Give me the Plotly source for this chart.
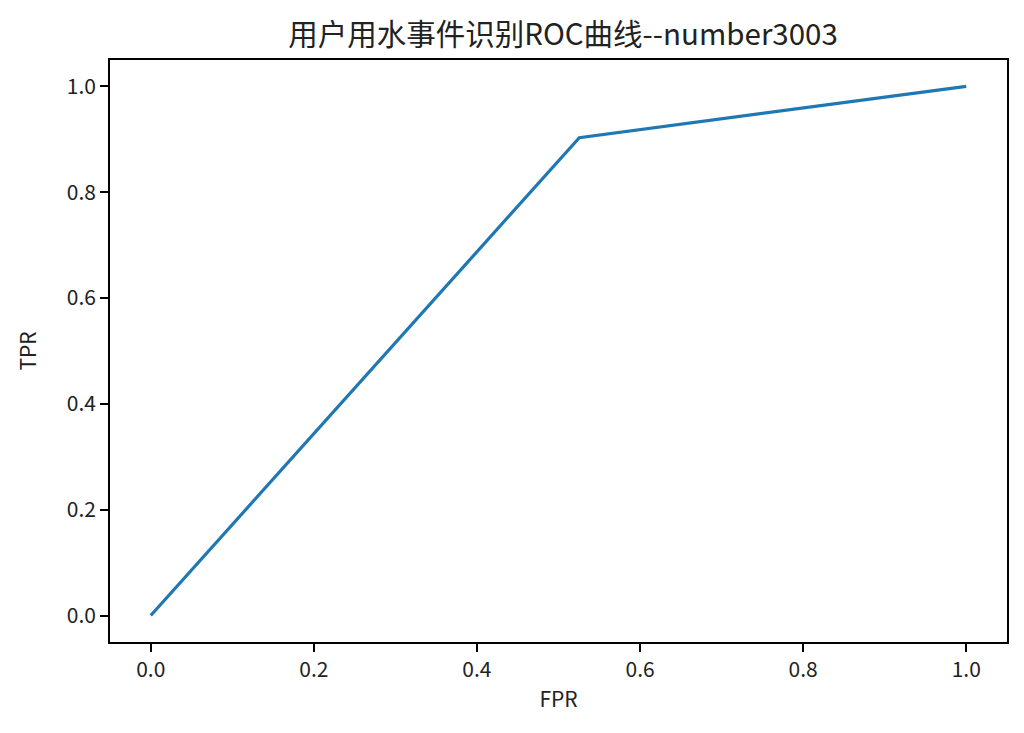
import plotly.graph_objects as go

fpr = [0.0, 0.5255, 1.0]
tpr = [0.0, 0.9032, 1.0]
tick_vals = [0.0, 0.2, 0.4, 0.6, 0.8, 1.0]
tick_text = ["0.0", "0.2", "0.4", "0.6", "0.8", "1.0"]

FONT = "Noto Sans CJK SC"

fig = go.Figure()
fig.add_trace(go.Scatter(x=fpr, y=tpr, mode="lines",
                         line=dict(color="#1f77b4", width=3.2),
                         showlegend=False))

axis_common = dict(
    range=[-0.05, 1.05], showgrid=False, zeroline=False,
    showline=True, linecolor="black", linewidth=1.8, mirror=True,
    ticks="outside", ticklen=8, tickwidth=1.8, tickcolor="black",
    tickvals=tick_vals, ticktext=tick_text,
    tickfont=dict(family=FONT, size=21, color="#222"),
)

fig.update_layout(
    width=1024, height=733,
    margin=dict(l=102, r=25, t=52, b=99),
    paper_bgcolor="white", plot_bgcolor="white",
    title=dict(text="用户用水事件识别ROC曲线--number3003",
               x=0.542, xanchor="center", y=0.963, yanchor="middle",
               font=dict(family=FONT, size=29.5, color="#222")),
    xaxis=dict(**axis_common,
               title=dict(text="FPR", font=dict(family=FONT, size=21, color="#222"), standoff=10)),
    yaxis=dict(**axis_common,
               title=dict(text="TPR", font=dict(family=FONT, size=21, color="#222"), standoff=24)),
)

fig.write_html("out.html")
